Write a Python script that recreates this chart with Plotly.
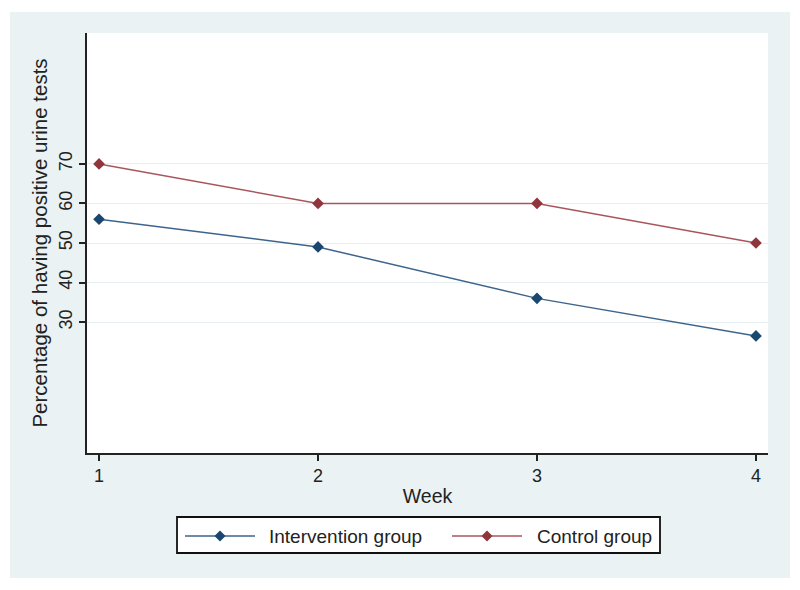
import plotly.graph_objects as go

weeks = [1, 2, 3, 4]
intervention = [56, 49, 36, 26.5]
control = [70, 60, 60, 50]
y_ticks = [30, 40, 50, 60, 70]
series_names = ["Intervention group", "Control group"]

navy = "#1a476f"
maroon = "#90353b"
navy_line = "#3d648c"
maroon_line = "#a8565c"
FONT = "Liberation Sans, Arial, sans-serif"

fig = go.Figure()
fig.add_trace(go.Scatter(x=weeks, y=intervention, mode="lines+markers", name=series_names[0],
                         line=dict(color=navy_line, width=1.5),
                         marker=dict(symbol="diamond", size=9, color=navy), showlegend=False))
fig.add_trace(go.Scatter(x=weeks, y=control, mode="lines+markers", name=series_names[1],
                         line=dict(color=maroon_line, width=1.5),
                         marker=dict(symbol="diamond", size=9, color=maroon), showlegend=False))

L, R, T, B = 87, 768, 33, 453
W, H = 800, 590
pw, ph = R - L, B - T

def px(x):
    return (x - L) / pw

def py(y):
    return (B - y) / ph

def diamond(cx, cy, r=5.5):
    pts = [(cx, cy - r), (cx + r, cy), (cx, cy + r), (cx - r, cy)]
    return "M " + " L ".join(f"{px(a):.5f},{py(b):.5f}" for a, b in pts) + " Z"

shapes = [
    dict(type="rect", xref="paper", yref="paper", x0=px(10), x1=px(790), y0=py(578), y1=py(12),
         fillcolor="#eaf2f3", line=dict(width=0), layer="below"),
    dict(type="rect", xref="paper", yref="paper", x0=0, x1=1, y0=0, y1=1,
         fillcolor="white", line=dict(width=0), layer="below"),
    # legend box
    dict(type="rect", xref="paper", yref="paper", x0=px(177), x1=px(660), y0=py(553), y1=py(517),
         fillcolor="white", line=dict(width=1.8, color="#111111")),
]
annotations = []
legend_items = [
    (series_names[0], navy_line, navy, 185, 255, 267),
    (series_names[1], maroon_line, maroon, 452, 522, 535),
]
ly = 536
for name, lc, mc, x0, x1, tx in legend_items:
    shapes.append(dict(type="line", xref="paper", yref="paper", x0=px(x0), x1=px(x1), y0=py(ly), y1=py(ly),
                       line=dict(color=lc, width=1.5)))
    shapes.append(dict(type="path", xref="paper", yref="paper", path=diamond((x0 + x1) / 2, ly),
                       fillcolor=mc, line=dict(width=0)))
    annotations.append(dict(xref="paper", yref="paper", x=px(tx), y=py(ly), xanchor="left", yanchor="middle",
                            text=name, showarrow=False, font=dict(size=19, color="#222222")))

fig.update_layout(
    width=W, height=H,
    margin=dict(l=L, r=W - R, t=T, b=H - B),
    paper_bgcolor="white", plot_bgcolor="white",
    font=dict(family=FONT, size=18, color="#222222"),
    showlegend=False,
    shapes=shapes,
    annotations=annotations,
)

fig.update_xaxes(range=[0.945, 4.055], tickvals=weeks, ticktext=[str(w) for w in weeks],
                 showgrid=False, zeroline=False, showline=True, linecolor="#222222", linewidth=1.5,
                 ticks="outside", ticklen=6, tickcolor="#222222", tickwidth=1.5,
                 tickfont=dict(size=18), title=dict(text="Week", font=dict(size=19.5), standoff=4))
fig.update_yaxes(range=[-3.1, 103.1], tickvals=y_ticks, ticktext=[str(v) for v in y_ticks],
                 tickangle=-90, showgrid=True, gridcolor="#e6eff1", gridwidth=1.2, zeroline=False,
                 showline=True, linecolor="#222222", linewidth=1.5,
                 ticks="outside", ticklen=6, tickcolor="#222222", tickwidth=1.5,
                 tickfont=dict(size=18),
                 title=dict(text="Percentage of having positive urine tests", font=dict(size=20.5), standoff=3))

fig.write_html("out.html", config={"displayModeBar": False},
               post_script="document.body.style.margin='0';")
